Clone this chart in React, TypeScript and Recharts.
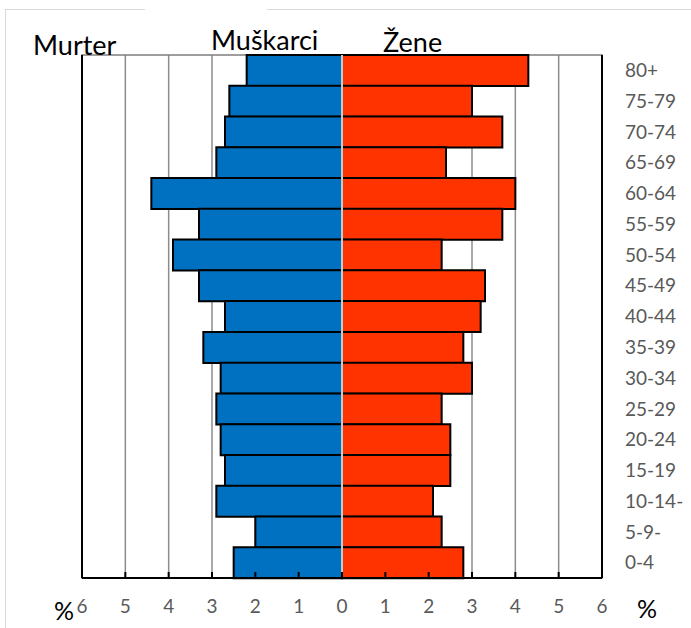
import React from "react";
import {
  BarChart, Bar, XAxis, YAxis, CartesianGrid, ReferenceLine, ReferenceArea,
} from "recharts";

// dobne skupine, od najstarije (vrh) prema najmlađoj (dno)
const AGE_GROUPS = [
  "80+", "75-79", "70-74", "65-69", "60-64", "55-59", "50-54", "45-49", "40-44",
  "35-39", "30-34", "25-29", "20-24", "15-19", "10-14-", "5-9-", "0-4",
];

// udio u %, očitano s grafa
const MALE = [2.2, 2.6, 2.7, 2.9, 4.4, 3.3, 3.9, 3.3, 2.7, 3.2, 2.8, 2.9, 2.8, 2.7, 2.9, 2.0, 2.5];
const FEMALE = [4.3, 3.0, 3.7, 2.4, 4.0, 3.7, 2.3, 3.3, 3.2, 2.8, 3.0, 2.3, 2.5, 2.5, 2.1, 2.3, 2.8];

const X_TICKS = [-6, -5, -4, -3, -2, -1, 0, 1, 2, 3, 4, 5, 6];
const GRID_X = [-5, -4, -3, -2, -1, 1, 2, 3, 4, 5];

const FONT = "Lato, 'Open Sans', sans-serif";
const TICK = { fill: "#595959", fontSize: 19, fontFamily: FONT };

const data = AGE_GROUPS.map((age, i) => ({
  age,
  muski: -MALE[i],
  zene: FEMALE[i],
}));

const W = 691;
const H = 628;

function Title({ x, y, children }: { x: number; y: number; children: React.ReactNode }) {
  return (
    <div style={{
      position: "absolute", left: x, top: y, fontFamily: FONT, fontSize: 27,
      lineHeight: 1, color: "#000", whiteSpace: "nowrap",
    }}>
      {children}
    </div>
  );
}

export default function App() {
  return (
    <div style={{ position: "absolute", left: 0, top: 0, width: W, height: H, background: "#fff", overflow: "hidden" }}>
      {/* vanjski okvir */}
      <div style={{ position: "absolute", left: 5, top: 9, width: 140, height: 1, background: "#d9d9d9" }} />
      <div style={{ position: "absolute", left: 267, top: 9, width: W - 267, height: 1, background: "#d9d9d9" }} />
      <div style={{ position: "absolute", left: 5, top: 9, width: 1, height: H - 9, background: "#d9d9d9" }} />

      <div style={{ position: "absolute", left: 0, top: 0 }}>
        <BarChart
          width={W}
          height={H}
          data={data}
          layout="vertical"
          stackOffset="sign"
          barCategoryGap={0}
          margin={{ top: 55, right: 0, left: 82, bottom: 0 }}
        >
          <CartesianGrid
            horizontal={false}
            stroke="#8c8c8c"
            strokeWidth={1.5}
            verticalValues={GRID_X}
          />
          <XAxis
            type="number"
            domain={[-6, 6]}
            ticks={X_TICKS}
            interval={0}
            tickFormatter={(v: number) => String(Math.abs(v))}
            tick={TICK}
            axisLine={{ stroke: "#000", strokeWidth: 2 }}
            tickLine={{ stroke: "#000", strokeWidth: 2 }}
            tickSize={-6}
            tickMargin={28}
            height={50}
          />
          <YAxis
            type="category"
            dataKey="age"
            orientation="right"
            width={89}
            interval={0}
            tick={TICK}
            axisLine={false}
            tickLine={false}
            tickSize={0}
            tickMargin={23}
          />
          <Bar dataKey="muski" stackId="p" fill="#0070c0" stroke="#000" strokeWidth={2} isAnimationActive={false} />
          <Bar dataKey="zene" stackId="p" fill="#ff3300" stroke="#000" strokeWidth={2} isAnimationActive={false} />
          <ReferenceLine x={0} stroke="#c8c8c8" strokeWidth={2} />
          <ReferenceArea x1={-6} x2={6} fill="none" stroke="#7f7f7f" strokeWidth={1.5} />
          <ReferenceLine x={-6} stroke="#000" strokeWidth={2} />
          <ReferenceLine x={6} stroke="#000" strokeWidth={2} />
        </BarChart>
      </div>

      <Title x={33} y={31}>Murter</Title>
      <Title x={211} y={26}>Muškarci</Title>
      <Title x={383} y={28}>Žene</Title>
      <div style={{ position: "absolute", left: 54, top: 598, fontFamily: FONT, fontSize: 25, lineHeight: 1, color: "#000" }}>%</div>
      <div style={{ position: "absolute", left: 637, top: 596, fontFamily: FONT, fontSize: 25, lineHeight: 1, color: "#000" }}>%</div>
    </div>
  );
}
